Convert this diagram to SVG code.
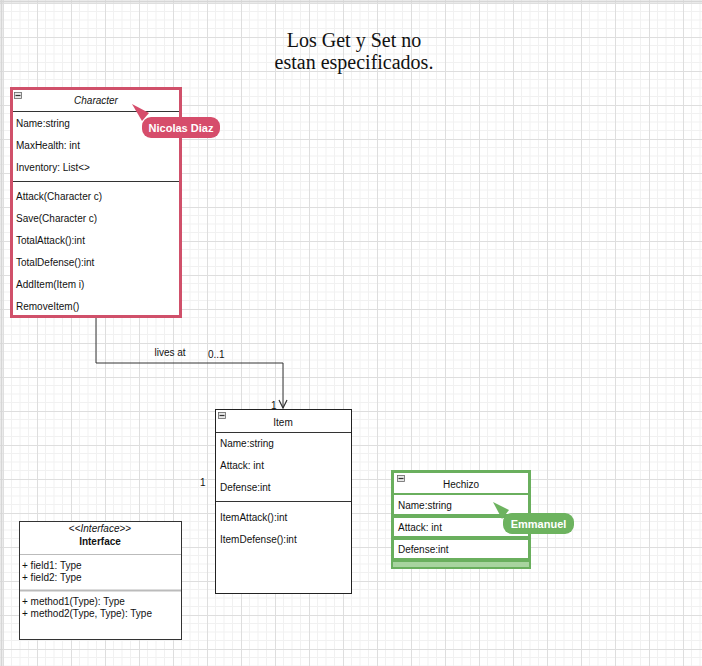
<svg xmlns="http://www.w3.org/2000/svg" width="702" height="666" viewBox="0 0 702 666">
<defs>
<pattern id="grid" patternUnits="userSpaceOnUse" x="3" y="3" width="34" height="34">
<path d="M8.5 0V34M17 0V34M25.5 0V34M0 8.5H34M0 17H34M0 25.5H34" stroke="#f1f1f1" stroke-width="1" fill="none"/>
<path d="M0.5 0V34M0 0.5H34" stroke="#dedede" stroke-width="1" fill="none"/>
</pattern>
<marker id="open" viewBox="0 0 10 10" refX="9" refY="5" markerWidth="10" markerHeight="10" markerUnits="userSpaceOnUse" orient="auto">
<path d="M1 1L9 5L1 9" fill="none" stroke="#333" stroke-width="1.2"/>
</marker>
<g id="minus">
<rect x="0.5" y="0.5" width="7" height="6" fill="#e8e8e8" stroke="#666" stroke-width="0.8"/>
<path d="M1.5 3.5H6.5" stroke="#333" stroke-width="1.2"/>
</g>
</defs>
<style>
.t{font-family:"Liberation Sans",Arial,sans-serif;font-size:10px;fill:#111}
.ti{font-style:italic}
.title{font-family:"Liberation Serif","Times New Roman",serif;font-size:20px;fill:#111}
.lbl{font-family:"Liberation Sans",Arial,sans-serif;font-size:10px;fill:#111}
.bub{font-family:"Liberation Sans",Arial,sans-serif;font-size:11px;font-weight:bold;fill:#fff}
</style>
<rect width="702" height="666" fill="#fff"/>
<rect width="702" height="666" fill="url(#grid)"/>
<path d="M0 1.5H702M1.5 0V666" stroke="#d6d6d6" stroke-width="2"/>

<g id="title">
<text class="title" x="354" y="47" text-anchor="middle">Los Get y Set no</text>
<text class="title" x="354" y="69" text-anchor="middle">estan especificados.</text>
</g>

<g id="connectors">
<path d="M96 317V363H283V408" fill="none" stroke="#333" stroke-width="1" marker-end="url(#open)"/>
<text class="lbl" x="170" y="356" text-anchor="middle">lives at</text>
<text class="lbl" x="208" y="358">0..1</text>
<text class="lbl" x="271" y="409">1</text>
<text class="lbl" x="200" y="486">1</text>
</g>

<g id="character">
<rect x="11.5" y="88.5" width="169" height="228" fill="#fff" stroke="#d0506a" stroke-width="3"/>
<path d="M13 111.5H179M13 181.5H179" stroke="#333" stroke-width="1"/>
<use href="#minus" x="14" y="92"/>
<text class="t ti" x="96" y="104" text-anchor="middle">Character</text>
<text class="t" x="16" y="127">Name:string</text>
<text class="t" x="16" y="149">MaxHealth: int</text>
<text class="t" x="16" y="171">Inventory: List&lt;&gt;</text>
<text class="t" x="16" y="200">Attack(Character c)</text>
<text class="t" x="16" y="222">Save(Character c)</text>
<text class="t" x="16" y="244">TotalAttack():int</text>
<text class="t" x="16" y="266">TotalDefense():int</text>
<text class="t" x="16" y="288">AddItem(Item i)</text>
<text class="t" x="16" y="310">RemoveItem()</text>
</g>

<g id="nicolas">
<polygon points="132,104 149,113 142,121" fill="#d64d6b"/>
<rect x="142" y="117" width="78" height="21" rx="9" fill="#d64d6b"/>
<text class="bub" x="181" y="131.5" text-anchor="middle">Nicolas Diaz</text>
</g>

<g id="item">
<rect x="215.5" y="409.5" width="136" height="184" fill="#fff" stroke="#222" stroke-width="1"/>
<path d="M216 432.5H351M216 501.5H351" stroke="#333" stroke-width="1"/>
<use href="#minus" x="218" y="412"/>
<text class="t" x="283" y="426" text-anchor="middle">Item</text>
<text class="t" x="220" y="447">Name:string</text>
<text class="t" x="220" y="469">Attack: int</text>
<text class="t" x="220" y="491">Defense:int</text>
<text class="t" x="220" y="521">ItemAttack():int</text>
<text class="t" x="220" y="543">ItemDefense():int</text>
</g>

<g id="hechizo">
<rect x="392.5" y="471.5" width="137" height="96" fill="#fff" stroke="#6aaf5e" stroke-width="3"/>
<rect x="393" y="561" width="136" height="6" fill="#a8d49f"/>
<path d="M393 494H529M393 515H529M393 517H529M393 537H529M393 539H529M393 559H529M393 561H529" stroke="#6aaf5e" stroke-width="2"/>
<use href="#minus" x="397" y="475"/>
<text class="t" x="461" y="488" text-anchor="middle">Hechizo</text>
<text class="t" x="398" y="509">Name:string</text>
<text class="t" x="398" y="531">Attack: int</text>
<text class="t" x="398" y="553">Defense:int</text>
</g>

<g id="emmanuel">
<polygon points="493,502 509,510 502,519" fill="#6db35f"/>
<rect x="503" y="513" width="71" height="21" rx="9" fill="#6db35f"/>
<text class="bub" x="538.5" y="527.5" text-anchor="middle">Emmanuel</text>
</g>

<g id="interface">
<rect x="19.5" y="521.5" width="162" height="118" fill="#fff" stroke="#333" stroke-width="1"/>
<path d="M20 554.5H181" stroke="#bbb" stroke-width="1"/>
<path d="M20 590.5H181" stroke="#bbb" stroke-width="2"/>
<text class="t" x="100" y="532" text-anchor="middle">&lt;&lt;<tspan class="ti">Interface</tspan>&gt;&gt;</text>
<text class="t" x="100" y="545" text-anchor="middle" font-weight="bold">Interface</text>
<text class="t" x="22" y="569">+ field1: Type</text>
<text class="t" x="22" y="581">+ field2: Type</text>
<text class="t" x="22" y="605">+ method1(Type): Type</text>
<text class="t" x="22" y="617">+ method2(Type, Type): Type</text>
</g>
</svg>
